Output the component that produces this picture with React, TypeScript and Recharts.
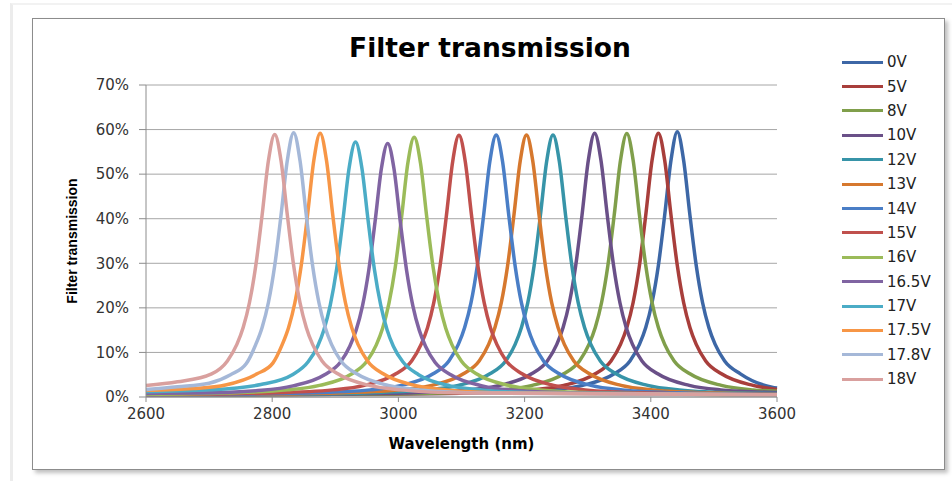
import React from 'react'
import { LineChart, Line, XAxis, YAxis, CartesianGrid } from 'recharts'

// wavelength (nm), transmission (%)
const s0V = [[2600, 0.4], [2900, 0.6], [3142, 0.9], [3242, 1.6], [3292, 2.6], [3342, 5.2], [3367, 8.1], [3382, 11.8], [3392, 15.6], [3402, 21.2], [3412, 29.5], [3422, 40.8], [3432, 53.1], [3442, 59.5], [3452, 53.1], [3462, 40.8], [3472, 29.5], [3482, 21.2], [3492, 15.6], [3502, 11.8], [3517, 8.1], [3542, 5.2], [3592, 2.2], [3600, 2.0]]
const s5V = [[2600, 0.4], [2900, 0.6], [3112, 0.9], [3212, 1.6], [3262, 2.6], [3312, 5.2], [3337, 8.1], [3352, 11.8], [3362, 15.6], [3372, 21.2], [3382, 29.5], [3392, 40.8], [3402, 53.1], [3412, 59.2], [3422, 53.1], [3432, 40.8], [3442, 29.5], [3452, 21.2], [3462, 15.6], [3472, 11.8], [3487, 8.1], [3512, 5.2], [3562, 2.6], [3600, 1.7]]
const s8V = [[2600, 0.4], [2900, 0.6], [3062, 0.9], [3162, 1.6], [3212, 2.6], [3262, 5.2], [3287, 8.1], [3302, 11.8], [3312, 15.6], [3322, 21.2], [3332, 29.5], [3342, 40.8], [3352, 53.1], [3362, 59.1], [3372, 53.1], [3382, 40.8], [3392, 29.5], [3402, 21.2], [3412, 15.6], [3422, 11.8], [3437, 8.1], [3462, 5.2], [3512, 2.6], [3562, 1.6], [3600, 1.3]]
const s10V = [[2600, 0.4], [2850, 0.6], [3011, 0.9], [3111, 1.6], [3161, 2.6], [3211, 5.2], [3236, 8.1], [3251, 11.8], [3261, 15.6], [3271, 21.2], [3281, 29.5], [3291, 40.8], [3301, 53.1], [3311, 59.2], [3321, 53.1], [3331, 40.8], [3341, 29.5], [3351, 21.2], [3361, 15.6], [3371, 11.8], [3386, 8.1], [3411, 5.2], [3461, 2.6], [3511, 1.6], [3600, 1.0]]
const s12V = [[2600, 0.4], [2800, 0.6], [2945, 0.9], [3045, 1.6], [3095, 2.6], [3145, 5.2], [3170, 8.1], [3185, 11.8], [3195, 15.6], [3205, 21.1], [3215, 29.4], [3225, 40.7], [3235, 52.9], [3245, 58.8], [3255, 52.9], [3265, 40.7], [3275, 29.4], [3285, 21.1], [3295, 15.6], [3305, 11.8], [3320, 8.1], [3345, 5.2], [3395, 2.6], [3445, 1.6], [3545, 0.9], [3600, 0.8]]
const s13V = [[2600, 0.4], [2903, 0.9], [3003, 1.6], [3053, 2.6], [3103, 5.2], [3128, 8.1], [3143, 11.8], [3153, 15.6], [3163, 21.1], [3173, 29.4], [3183, 40.7], [3193, 52.9], [3203, 58.8], [3213, 52.9], [3223, 40.7], [3233, 29.4], [3243, 21.1], [3253, 15.6], [3263, 11.8], [3278, 8.1], [3303, 5.2], [3353, 2.6], [3403, 1.6], [3503, 0.9], [3600, 0.7]]
const s14V = [[2600, 0.4], [2855, 0.9], [2955, 1.6], [3005, 2.6], [3055, 5.2], [3080, 8.1], [3095, 11.8], [3105, 15.6], [3115, 21.1], [3125, 29.4], [3135, 40.7], [3145, 52.9], [3155, 58.8], [3165, 52.9], [3175, 40.7], [3185, 29.4], [3195, 21.1], [3205, 15.6], [3215, 11.8], [3230, 8.1], [3255, 5.2], [3305, 2.6], [3355, 1.6], [3455, 0.9], [3600, 0.6]]
const s15V = [[2600, 0.5], [2796, 0.9], [2896, 1.6], [2946, 2.6], [2996, 5.2], [3021, 8.1], [3036, 11.8], [3046, 15.5], [3056, 21.1], [3066, 29.4], [3076, 40.6], [3086, 52.8], [3096, 58.7], [3106, 52.8], [3116, 40.6], [3126, 29.4], [3136, 21.1], [3146, 15.5], [3156, 11.8], [3171, 8.1], [3196, 5.2], [3246, 2.6], [3296, 1.6], [3396, 0.9], [3600, 0.5]]
const s16V = [[2600, 0.6], [2725, 0.9], [2825, 1.6], [2875, 2.6], [2925, 5.1], [2950, 8.0], [2965, 11.7], [2975, 15.4], [2985, 21.0], [2995, 29.1], [3005, 40.3], [3015, 52.5], [3025, 58.3], [3035, 52.5], [3045, 40.3], [3055, 29.1], [3065, 21.0], [3075, 15.4], [3085, 11.7], [3100, 8.0], [3125, 5.1], [3175, 2.6], [3225, 1.6], [3325, 0.9], [3600, 0.5]]
const s16_5V = [[2600, 0.8], [2683, 0.9], [2783, 1.5], [2833, 2.5], [2883, 5.0], [2908, 7.8], [2923, 11.4], [2933, 15.0], [2943, 20.4], [2953, 28.4], [2963, 39.3], [2973, 51.2], [2983, 56.9], [2993, 51.2], [3003, 39.3], [3013, 28.4], [3023, 20.4], [3033, 15.0], [3043, 11.4], [3058, 7.8], [3083, 5.0], [3133, 2.5], [3183, 1.5], [3283, 0.9], [3600, 0.5]]
const s17V = [[2600, 1.2], [2700, 1.6], [2782, 2.8], [2832, 5.0], [2857, 7.9], [2872, 11.4], [2882, 15.1], [2892, 20.6], [2902, 28.6], [2912, 39.6], [2922, 51.5], [2932, 57.2], [2942, 51.5], [2952, 39.6], [2962, 28.6], [2972, 20.6], [2982, 15.1], [2992, 11.4], [3007, 7.9], [3032, 5.0], [3082, 2.5], [3132, 1.6], [3232, 0.9], [3600, 0.5]]
const s17_5V = [[2600, 1.5], [2676, 1.9], [2726, 2.7], [2776, 5.2], [2801, 7.6], [2816, 11.8], [2826, 15.6], [2836, 21.2], [2846, 29.5], [2856, 40.8], [2866, 53.1], [2876, 59.2], [2886, 53.1], [2896, 40.8], [2906, 29.5], [2916, 21.2], [2926, 15.6], [2936, 11.8], [2951, 8.1], [2976, 5.2], [3026, 2.6], [3076, 1.6], [3176, 0.9], [3600, 0.5]]
const s17_8V = [[2600, 1.7], [2650, 2.3], [2700, 3.1], [2734, 5.0], [2759, 7.5], [2774, 11.8], [2784, 15.6], [2794, 21.2], [2804, 29.5], [2814, 40.8], [2824, 53.1], [2834, 59.3], [2844, 53.1], [2854, 40.8], [2864, 29.5], [2874, 21.2], [2884, 15.6], [2894, 11.8], [2909, 8.1], [2934, 5.2], [2984, 2.6], [3034, 1.6], [3134, 0.9], [3600, 0.5]]
const s18V = [[2600, 2.6], [2650, 3.4], [2704, 5.2], [2729, 8.1], [2744, 11.8], [2754, 15.6], [2764, 21.2], [2774, 29.5], [2784, 40.8], [2794, 53.0], [2804, 58.9], [2814, 53.0], [2824, 40.8], [2834, 29.5], [2844, 21.2], [2854, 15.6], [2864, 11.8], [2879, 8.1], [2904, 5.2], [2954, 2.6], [3004, 1.6], [3104, 0.9], [3600, 0.5]]

const seriesNames = ['0V', '5V', '8V', '10V', '12V', '13V', '14V', '15V', '16V', '16.5V', '17V', '17.5V', '17.8V', '18V']
const seriesData = [s0V, s5V, s8V, s10V, s12V, s13V, s14V, s15V, s16V, s16_5V, s17V, s17_5V, s17_8V, s18V]
const colors = ['#3D67A6', '#A83E3B', '#809F4B', '#6A5088', '#3794A8', '#D6782E', '#4A7EC6', '#C0504D', '#9BBB59', '#8064A2', '#4BACC6', '#F79646', '#A5B8D8', '#D9A09E']

const xTicks = [2600, 2800, 3000, 3200, 3400, 3600]
const yTicks = [0, 10, 20, 30, 40, 50, 60, 70]

const font = 'DejaVu Sans, Verdana, sans-serif'

export default function App() {
  return (
    <div style={{ position: 'absolute', left: 0, top: 0, width: 952, height: 481, background: '#fff', fontFamily: font }}>
      {/* faint outer edge of the picture */}
      <div style={{ position: 'absolute', left: 10, top: 3, width: 942, height: 478, borderLeft: '3px solid #ececec', borderTop: '2px solid #f2f2f2' }} />
      {/* chart area frame */}
      <div style={{ position: 'absolute', left: 32, top: 18, width: 911, height: 450, border: '1px solid #8c8c8c', boxShadow: '3px 3px 4px rgba(0,0,0,0.25)', background: '#fff' }} />
      <div style={{ position: 'absolute', left: 0, top: 32, width: 980, textAlign: 'center', fontSize: 26.5, fontWeight: 'bold', color: '#000' }}>
        Filter transmission
      </div>
      <div style={{ position: 'absolute', left: 0, top: 0 }}>
        <LineChart width={952} height={481} margin={{ top: 85, right: 175, bottom: 54, left: 86 }}>
          <CartesianGrid vertical={false} stroke="#a6a6a6" strokeWidth={1} />
          <XAxis
            type="number"
            dataKey="w"
            domain={[2600, 3600]}
            ticks={xTicks}
            height={30}
            stroke="#8c8c8c"
            tickSize={5}
            tick={{ fill: '#333', fontSize: 15, fontFamily: font }}
            tickMargin={6}
            label={{ value: 'Wavelength (nm)', position: 'insideBottom', offset: -22, fill: '#000', fontSize: 15, fontWeight: 'bold', fontFamily: font }}
          />
          <YAxis
            type="number"
            domain={[0, 70]}
            ticks={yTicks}
            width={60}
            stroke="#8c8c8c"
            tickSize={7}
            tick={{ fill: '#333', fontSize: 15, fontFamily: font }}
            tickMargin={10}
            tickFormatter={(v: number) => `${v}%`}
            label={{ value: 'Filter transmission', angle: -90, position: 'insideLeft', offset: -14, textAnchor: 'middle', fill: '#000', fontSize: 14, fontWeight: 'bold', fontFamily: 'Liberation Sans Narrow, Liberation Sans, sans-serif' }}
          />
          {seriesData.map((pts, i) => (
            <Line
              key={seriesNames[i]}
              name={seriesNames[i]}
              data={pts.map(([w, t]) => ({ w, t }))}
              dataKey="t"
              type="monotone"
              stroke={colors[i]}
              strokeWidth={3.5}
              dot={false}
              isAnimationActive={false}
            />
          ))}
        </LineChart>
      </div>
      {/* legend */}
      <div style={{ position: 'absolute', left: 842, top: 50 }}>
        {seriesNames.map((n, i) => (
          <div key={n} style={{ display: 'flex', alignItems: 'center', height: 24.4 }}>
            <div style={{ width: 41, height: 3, background: colors[i] }} />
            <span style={{ marginLeft: 4, fontSize: 15, color: '#222' }}>{n}</span>
          </div>
        ))}
      </div>
    </div>
  )
}
